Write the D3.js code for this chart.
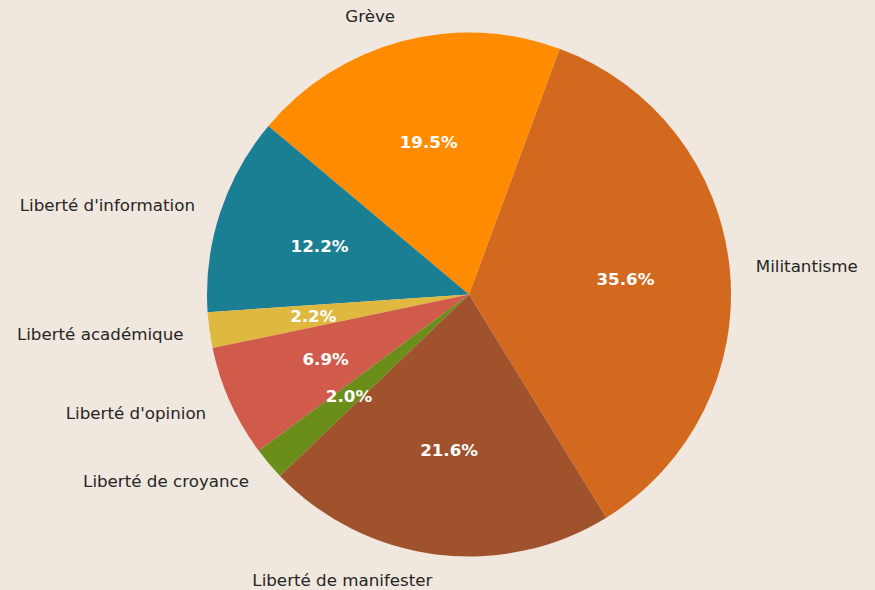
<!DOCTYPE html>
<html>
<head>
<meta charset="utf-8">
<script src="https://cdn.jsdelivr.net/npm/d3@7"></script>
<style>
  body { margin: 0; background: #f0e7de; }
  svg { display: block; }
</style>
</head>
<body>
<div id="vizholder"></div>
<script>
// slices in counterclockwise order, starting from startAngle
var categories = ["Militantisme", "Grève", "Liberté d'information", "Liberté académique",
                  "Liberté d'opinion", "Liberté de croyance", "Liberté de manifester"];
var values = [35.6, 19.5, 12.2, 2.2, 6.9, 2.0, 21.6];
var colors = ["#d2691e", "#ff8c00", "#1b7f94", "#dfb840", "#d05b4b", "#6b8e1a", "#a0522d"];

var width = 875, height = 590;
var cx = 469, cy = 294.5, radius = 262;
var startAngle = -58.4; // degrees, counterclockwise from 3 o'clock

var svg = d3.select("#vizholder").append("svg")
  .attr("width", width)
  .attr("height", height)
  .style("background", "#f0e7de");

var g = svg.append("g")
  .attr("transform", "translate(" + cx + "," + cy + ")");

var total = d3.sum(values);
var a = startAngle;
var slices = values.map(function(v, i) {
  var a0 = a, a1 = a + v / total * 360;
  a = a1;
  return { name: categories[i], value: v, color: colors[i], a0: a0, a1: a1, mid: (a0 + a1) / 2 };
});

var rad = Math.PI / 180;
var arc = d3.arc().innerRadius(0).outerRadius(radius);

g.selectAll(".slice")
  .data(slices)
  .enter()
  .append("path")
  .attr("class", "slice")
  .attr("d", function(d) {
    // convert math angles to d3 (clockwise from 12 o'clock)
    return arc({ startAngle: (90 - d.a1) * rad, endAngle: (90 - d.a0) * rad });
  })
  .style("fill", function(d) { return d.color; });

g.selectAll(".label")
  .data(slices)
  .enter()
  .append("text")
  .attr("class", "label")
  .attr("x", function(d) { return 1.1 * radius * Math.cos(d.mid * rad); })
  .attr("y", function(d) { return -1.1 * radius * Math.sin(d.mid * rad); })
  .attr("dy", "0.35em")
  .style("text-anchor", function(d) { return Math.cos(d.mid * rad) > 0 ? "start" : "end"; })
  .style("font-family", "DejaVu Sans")
  .style("font-size", "16.7px")
  .style("fill", "#262626")
  .text(function(d) { return d.name; });

g.selectAll(".pct")
  .data(slices)
  .enter()
  .append("text")
  .attr("class", "pct")
  .attr("x", function(d) { return 0.6 * radius * Math.cos(d.mid * rad); })
  .attr("y", function(d) { return -0.6 * radius * Math.sin(d.mid * rad); })
  .attr("dy", "0.35em")
  .style("text-anchor", "middle")
  .style("font-family", "DejaVu Sans")
  .style("font-weight", "bold")
  .style("font-size", "16.7px")
  .style("fill", "white")
  .text(function(d) { return d.value.toFixed(1) + "%"; });
</script>
</body>
</html>
